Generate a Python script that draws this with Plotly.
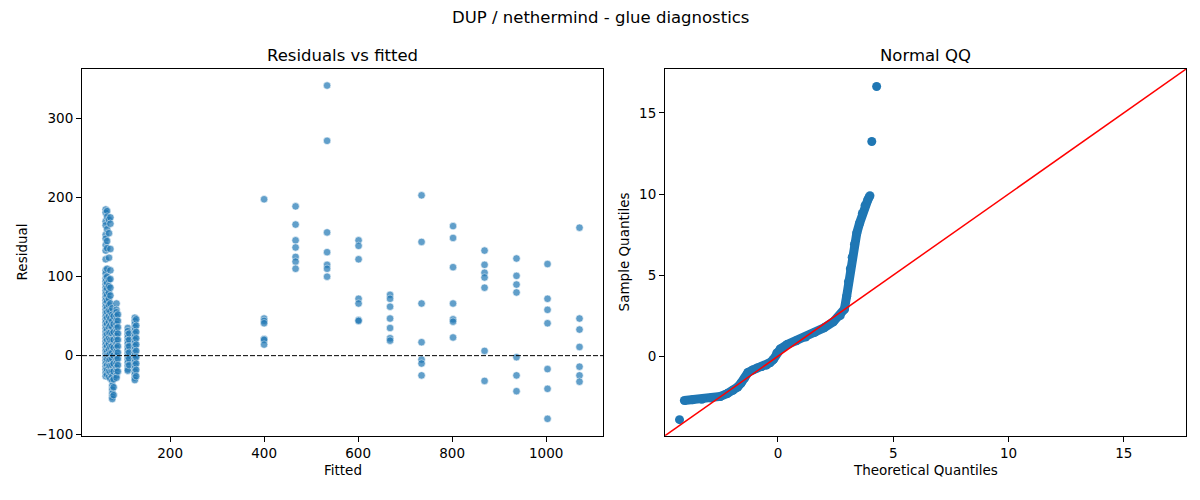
import plotly.graph_objects as go
from plotly.subplots import make_subplots

# residuals vs fitted: the seven-point columns on the right
col_fitted = [400, 467, 534, 601, 668, 735, 802, 869, 937, 1003, 1071]
col_resid = [
    [198, 47, 44, 41, 21, 20, 14],
    [189, 166, 146, 137, 125, 119, 110],
    [342, 272, 156, 131, 115, 110, 100],
    [146, 139, 122, 72, 66, 45, 44],
    [77, 72, 62, 47, 35, 22, 19],
    [203, 144, 66, 17, -5, -10, -25],
    [164, 149, 112, 66, 46, 43, 23],
    [133, 115, 105, 99, 86, 6, -32],
    [123, 101, 90, 80, -2, -25, -45],
    [116, 72, 58, 41, -17, -42, -80],
    [162, 47, 33, 11, -14, -25, -33],
]

# the dense cluster at small fitted values
cluster_fitted = [63, 66, 70, 73, 77, 80, 86, 89, 110, 113, 125, 128]
cluster_resid = [
    [185, 181, 170, 165, 153, 148, 140, 133, 122, 108, 104, 98, 94, 90, 86, 82, 78,
     74, 70, 66, 62, 58, 54, 50, 46, 42, 38, 34, 30, 26, 22, 18, 14, 10, 6, 2, -2,
     -6, -10, -14, -18, -22, -26],
    [183, 176, 160, 145, 136, 110, 100, 92, 85, 77, 69, 61, 55, 48, 40, 33, 27, 20,
     12, 5, 0, -5, -12, -18, -24],
    [172, 155, 124, 96, 88, 80, 72, 64, 57, 50, 43, 36, 29, 22, 15, 8, 1, -6, -13,
     -20, -27],
    [175, 167, 135, 108, 97, 86, 76, 66, 56, 47, 38, 29, 20, 11, 3, -5, -13, -21, -29],
    [60, 52, 44, 36, 28, 20, 12, 4, -4, -12, -20, -26, -32, -38, -43, -48, -52, -55],
    [50, 40, 30, 20, 10, 0, -10, -20, -30, -40, -50],
    [66, 58, 55, 50, 45, 40, 35, 30, 25, 20, 15, 10, 5, 0, -5, -10, -15, -20, -25, -28],
    [52, 44, 36, 28, 20, 12, 4, -4, -12, -20],
    [35, 31, 27, 23, 19, 15, 11, 7, 3, -1, -5, -9, -13, -17, -19],
    [28, 20, 12, 4, -4, -12],
    [48, 44, 40, 36, 32, 28, 24, 20, 16, 12, 8, 4, 0, -4, -8, -12, -16, -20, -24,
     -28, -31],
    [46, 38, 30, 22, 14, 6, -2, -10, -18, -26],
]

# normal QQ: dense band of sample quantiles, plus the separate outliers
qq_theo = [-4.06, -3.7, -3.3, -2.9, -2.5, -2.2, -1.95, -1.75, -1.6, -1.45, -1.3,
           -1.1, -0.9, -0.7, -0.5, -0.35, -0.2, -0.05, 0.1, 0.4, 0.8, 1.2, 1.6,
           2.0, 2.4, 2.7, 2.88, 2.98, 3.06, 3.14, 3.22, 3.32, 3.42, 3.54, 3.66,
           3.78, 3.9, 3.99]
qq_sample = [-2.73, -2.68, -2.65, -2.58, -2.48, -2.3, -2.1, -1.9, -1.65, -1.35,
             -1.0, -0.85, -0.72, -0.63, -0.55, -0.4, -0.2, 0.2, 0.45, 0.72, 0.95,
             1.18, 1.47, 1.75, 2.12, 2.5, 2.9, 3.7, 4.6, 5.4, 6.1, 6.9, 7.6, 8.2,
             8.8, 9.3, 9.65, 9.9]
qq_out_theo = [-4.27, 4.07, 4.28]
qq_out_sample = [-3.91, 13.24, 16.63]
qq_lims = [-4.9, 17.7]

# flatten the columns into point lists
fitted = []
resid = []
for fv, rs in zip(cluster_fitted + col_fitted, cluster_resid + col_resid):
    fitted += [fv] * len(rs)
    resid += rs

blue = "#1f77b4"
font = "DejaVu Sans"

# the page body has an 8px margin all round, so the figure is shrunk to fit 1200x500
W, H, OFF = 1184, 484, 8


def px_x(p):
    return (p - OFF) / W


def px_y(p):
    return 1 - (p - OFF) / H


fig = make_subplots(rows=1, cols=2)

fig.add_trace(go.Scatter(
    x=fitted, y=resid, mode="markers",
    marker=dict(size=7.5, color=blue, opacity=0.7,
                line=dict(color="white", width=0.6)),
    showlegend=False), row=1, col=1)

fig.add_trace(go.Scatter(
    x=qq_theo, y=qq_sample, mode="lines+markers",
    line=dict(color=blue, width=9),
    marker=dict(size=9, color=blue),
    showlegend=False), row=1, col=2)
fig.add_trace(go.Scatter(
    x=qq_out_theo, y=qq_out_sample, mode="markers",
    marker=dict(size=9, color=blue),
    showlegend=False), row=1, col=2)
fig.add_trace(go.Scatter(
    x=qq_lims, y=qq_lims, mode="lines",
    line=dict(color="red", width=1.5),
    showlegend=False), row=1, col=2)

# dashed zero line across the residual panel
fig.add_shape(type="line", xref="x domain", yref="y", x0=0, x1=1, y0=0, y1=0,
              line=dict(color="black", width=1, dash="5px,2px"), layer="above")

axis_style = dict(showline=True, mirror=True, linecolor="black", linewidth=1,
                  ticks="outside", ticklen=5, tickcolor="black", tickwidth=1,
                  showgrid=False, zeroline=False,
                  tickfont=dict(family=font, size=13.5, color="black"))

fig.update_xaxes(axis_style)
fig.update_yaxes(axis_style)
fig.update_layout(
    xaxis=dict(domain=[px_x(82), px_x(603)], range=[12.6, 1121],
               tickvals=[200, 400, 600, 800, 1000]),
    yaxis=dict(domain=[px_y(442), px_y(70)], range=[-101.4, 362.8],
               tickvals=[-100, 0, 100, 200, 300]),
    xaxis2=dict(domain=[px_x(665), px_x(1186)], range=qq_lims,
                tickvals=[0, 5, 10, 15]),
    yaxis2=dict(domain=[px_y(442), px_y(70)], range=qq_lims,
                tickvals=[0, 5, 10, 15]),
)

notes = [
    ("DUP / nethermind - glue diagnostics", 600, 18, 0, 16.5),
    ("Residuals vs fitted", (82 + 603) / 2, 56, 0, 16.5),
    ("Normal QQ", (665 + 1186) / 2, 56, 0, 16.5),
    ("Fitted", (82 + 603) / 2, 477, 0, 13.5),
    ("Theoretical Quantiles", (665 + 1186) / 2, 477, 0, 13.5),
    ("Residual", 22, 256, -90, 13.5),
    ("Sample Quantiles", 624, 256, -90, 13.5),
]
for text, x, y, angle, size in notes:
    fig.add_annotation(text=text, x=px_x(x), y=px_y(y), xref="paper", yref="paper",
                       xanchor="center", yanchor="middle", textangle=angle,
                       showarrow=False,
                       font=dict(family=font, size=size, color="black"))

fig.update_layout(
    width=W, height=H,
    margin=dict(l=0, r=0, t=0, b=0),
    paper_bgcolor="white", plot_bgcolor="white",
    font=dict(family=font, color="black"),
)

fig.write_html("out.html")
